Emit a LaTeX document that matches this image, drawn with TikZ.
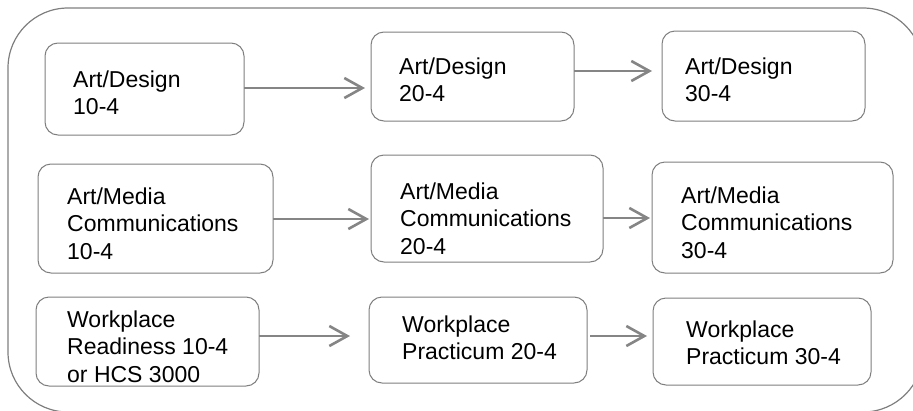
\documentclass[tikz,border=0pt]{standalone}
\usepackage{fontspec}
\setmainfont{Liberation Sans}
\usetikzlibrary{arrows.meta}
\definecolor{bordergray}{HTML}{7F7F7F}
\definecolor{arrowgray}{HTML}{858585}
\newcommand{\lst}{\rule{0pt}{18pt}}
\begin{document}
\begin{tikzpicture}[x=1pt,y=-1pt,
  boxnode/.style={draw=bordergray, line width=1pt, rounded corners=13pt, inner sep=0pt, outer sep=0pt, anchor=north west, fill=white},
  txt/.style={anchor=north west, inner sep=0pt, align=left, font=\fontsize{23}{27.5}\selectfont, text=black},
  arr/.style={draw=arrowgray, line width=2.6pt, -{Straight Barb[length=18pt,width=20pt,line width=2.6pt]}}
]
\useasboundingbox (0,0) rectangle (913,410);
\draw[bordergray, line width=1.2pt, rounded corners=60pt] (8,8) rectangle (923,412);

% row 1
\node[boxnode, minimum width=199pt, minimum height=92pt] (a1) at (45,43) {};
\node[boxnode, minimum width=203pt, minimum height=89pt] (a2) at (371,32) {};
\node[boxnode, minimum width=203pt, minimum height=90pt] (a3) at (662,31) {};
% row 2
\node[boxnode, minimum width=235pt, minimum height=109pt] (b1) at (38,164) {};
\node[boxnode, minimum width=232pt, minimum height=107pt] (b2) at (371,155) {};
\node[boxnode, minimum width=241pt, minimum height=111pt] (b3) at (652,162) {};
% row 3
\node[boxnode, minimum width=223pt, minimum height=89pt] (c1) at (36,297) {};
\node[boxnode, minimum width=218pt, minimum height=86pt] (c2) at (369,297) {};
\node[boxnode, minimum width=218pt, minimum height=87pt] (c3) at (653,298) {};

% texts
\node[txt] (a1t) at (73,69) {\lst Art/Design\\10-4};
\node[txt] (a2t) at (399,56) {\lst Art/Design\\20-4};
\node[txt] (a3t) at (685,56) {\lst Art/Design\\30-4};
\node[txt] (b1t) at (67,186) {\lst Art/Media\\Communications\\10-4};
\node[txt] (b2t) at (400,181) {\lst Art/Media\\Communications\\20-4};
\node[txt] (b3t) at (681,185) {\lst Art/Media\\Communications\\30-4};
\node[txt] (c1t) at (67,309) {\lst Workplace\\Readiness 10-4\\or HCS 3000};
\node[txt] (c2t) at (402,314) {\lst Workplace\\Practicum 20-4};
\node[txt] (c3t) at (686,319) {\lst Workplace\\Practicum 30-4};

% connectors
\coordinate (p1) at ([yshift=1pt]a1.east);
\coordinate (p2) at ([yshift=5.5pt]a2.east);
\coordinate (p3) at ([yshift=-0.5pt]b1.east);
\coordinate (p4) at ([yshift=-9.5pt]b2.east);
\coordinate (p5) at ([yshift=5.5pt]c1.east);
\coordinate (p6) at ([yshift=4pt]c2.east);
\draw[arr, shorten >=6pt] (p1) -- (p1 -| a2.west);
\draw[arr, shorten >=10pt] (p2) -- (p2 -| a3.west);
\draw[arr, shorten >=2pt] (p3) -- (p3 -| b2.west);
\draw[arr, shorten >=2pt] (p4) -- (p4 -| b3.west);
\draw[arr, shorten >=19pt] (p5) -- (p5 -| c2.west);
\draw[arr, shorten <=3pt, shorten >=6pt] (p6) -- (p6 -| c3.west);
\end{tikzpicture}
\end{document}
